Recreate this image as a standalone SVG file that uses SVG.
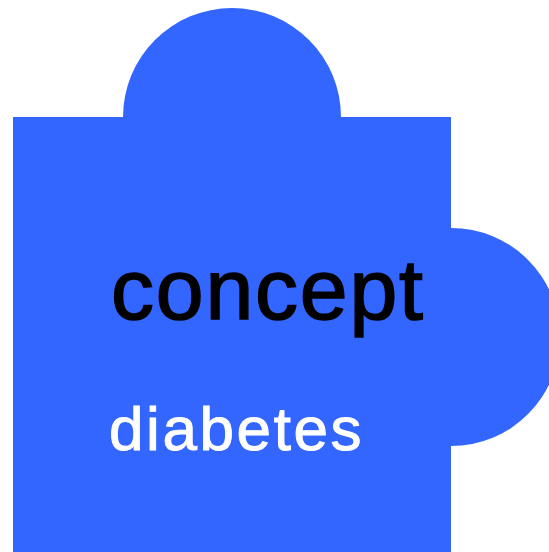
<svg xmlns="http://www.w3.org/2000/svg" width="549" height="552" viewBox="0 0 549 552">
<style>.t{font-family:"Liberation Sans",Arial,sans-serif}</style>
<rect width="549" height="552" fill="#fff"/>
<g id="puzzle-piece">
<path d="M13 117H123A109 109 0 0 1 341 117H451V228A109 109 0 0 1 451 446V552H13Z" fill="#3366ff"/>
<text class="t" x="111" y="319" font-size="86" letter-spacing="1.8" fill="#000" stroke="#000" stroke-width="1.6">concept</text>
<text class="t" x="109" y="450" font-size="62" letter-spacing="2.6" fill="#fff" stroke="#fff" stroke-width="1">diabetes</text>
</g>
</svg>
